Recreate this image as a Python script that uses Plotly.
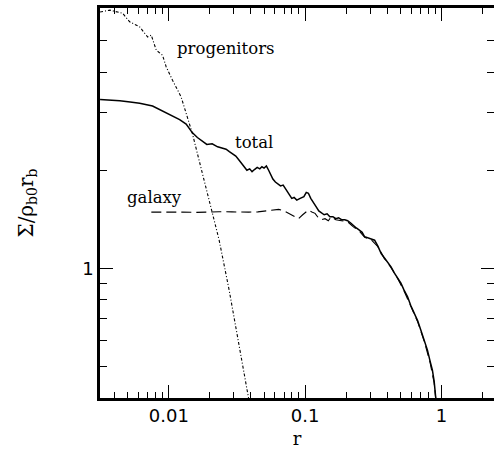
import plotly.graph_objects as go

# ---- data ----
r_total = [0.00313, 0.0037, 0.00437, 0.0052, 0.00611, 0.0076, 0.0092, 0.0106, 0.0120, 0.0134,
           0.01485, 0.0162, 0.0176, 0.0190, 0.0208, 0.0228, 0.0245, 0.0263, 0.0278, 0.0291,
           0.0310, 0.0327, 0.0350, 0.0374, 0.0392, 0.0408, 0.0425, 0.0445, 0.0465, 0.0482,
           0.0500, 0.0520, 0.0540, 0.0560, 0.0580, 0.0605, 0.0630, 0.0660, 0.0690, 0.0715,
           0.0750, 0.0798, 0.0830, 0.0869, 0.0920, 0.0980, 0.1020, 0.1057, 0.1100, 0.1149,
           0.1200, 0.1260, 0.1320, 0.1380, 0.1450, 0.1520, 0.1600, 0.1680, 0.1760, 0.1850,
           0.1955, 0.2050, 0.2150, 0.2260, 0.2375, 0.2500, 0.2620, 0.2735, 0.2880, 0.3050,
           0.3235, 0.3420, 0.3615, 0.3800, 0.4000, 0.4270, 0.4500, 0.4750, 0.5047, 0.5300,
           0.5648, 0.5950, 0.6320, 0.6700, 0.7060, 0.7500, 0.7900, 0.8250, 0.8590, 0.8850,
           0.9080, 0.9200]
sigma_total = [3.30, 3.29, 3.27, 3.24, 3.21, 3.15, 3.03, 2.95, 2.86, 2.77,
               2.61, 2.52, 2.45, 2.40, 2.41, 2.36, 2.34, 2.32, 2.28, 2.25,
               2.21, 2.15, 2.08, 2.00, 2.02, 1.98, 2.01, 2.04, 2.02, 2.05,
               2.03, 2.06, 2.00, 1.93, 1.88, 1.84, 1.82, 1.79, 1.80, 1.76,
               1.72, 1.64, 1.65, 1.62, 1.64, 1.66, 1.71, 1.70, 1.64, 1.60,
               1.55, 1.50, 1.475, 1.46, 1.47, 1.44, 1.44, 1.42, 1.43, 1.41,
               1.41, 1.40, 1.38, 1.35, 1.33, 1.31, 1.29, 1.25, 1.24, 1.23,
               1.22, 1.17, 1.11, 1.08, 1.05, 1.01, 0.97, 0.94, 0.90, 0.86,
               0.818, 0.77, 0.728, 0.69, 0.647, 0.60, 0.561, 0.52, 0.487, 0.45,
               0.404, 0.38]

r_galaxy = [0.00744, 0.0095, 0.0120, 0.0160, 0.0200, 0.0234, 0.0290, 0.0340, 0.0387, 0.0450,
            0.0520, 0.0569, 0.0640, 0.0700, 0.0756, 0.0820, 0.0894, 0.0960, 0.1057, 0.1120,
            0.1183, 0.1250, 0.1320, 0.1400, 0.1480, 0.1555, 0.1680, 0.1850, 0.2050, 0.2260,
            0.2500, 0.2735, 0.3050, 0.3420, 0.3800, 0.4270, 0.4750, 0.5300, 0.5950, 0.6700,
            0.7500, 0.8250, 0.8850, 0.9200]
sigma_galaxy = [1.488, 1.490, 1.488, 1.485, 1.490, 1.492, 1.490, 1.486, 1.488, 1.490,
                1.500, 1.510, 1.517, 1.500, 1.475, 1.450, 1.420, 1.460, 1.510, 1.490,
                1.475, 1.430, 1.410, 1.420, 1.400, 1.440, 1.410, 1.400, 1.390, 1.340,
                1.300, 1.245, 1.225, 1.165, 1.075, 1.005, 0.935, 0.855, 0.765, 0.685,
                0.595, 0.515, 0.445, 0.378]

r_prog = [0.00313, 0.0037, 0.00459, 0.00516, 0.00611, 0.00699, 0.00743, 0.00809, 0.00899,
          0.00957, 0.01064, 0.0123, 0.01486, 0.01758, 0.0208, 0.0234, 0.0277, 0.0327,
          0.0376, 0.0387]
sigma_prog = [6.12, 6.20, 6.06, 5.71, 5.51, 5.13, 5.20, 4.67, 4.51,
              4.15, 3.78, 3.36, 2.60, 1.957, 1.477, 1.221, 0.858, 0.575,
              0.4137, 0.394]

x_major = [0.01, 0.1, 1]
x_major_text = ["0.01", "0.1", "1"]
x_minor = [0.004, 0.005, 0.006, 0.007, 0.008, 0.009,
           0.02, 0.03, 0.04, 0.05, 0.06, 0.07, 0.08, 0.09,
           0.2, 0.3, 0.4, 0.5, 0.6, 0.7, 0.8, 0.9, 2]
y_major = [1]
y_major_text = ["1"]
y_minor = [0.5, 0.6, 0.7, 0.8, 0.9, 2, 3, 4, 5]

labels = ["progenitors", "total", "galaxy"]

# ---- figure ----
fig = go.Figure()
fig.add_trace(go.Scatter(x=r_total, y=sigma_total, mode="lines",
                         line=dict(color="black", width=1.5), name="total"))
fig.add_trace(go.Scatter(x=r_galaxy, y=sigma_galaxy, mode="lines",
                         line=dict(color="black", width=1.1, dash="10px,5px"), name="galaxy"))
fig.add_trace(go.Scatter(x=r_prog, y=sigma_prog, mode="lines",
                         line=dict(color="black", width=1.1, dash="3px,2px,1px,2px"),
                         name="progenitors"))

axis_common = dict(showline=True, linecolor="black", linewidth=2.5, mirror="ticks",
                   ticks="inside", tickcolor="black", tickwidth=1, ticklen=13,
                   showgrid=False, zeroline=False,
                   tickfont=dict(family="DejaVu Sans", size=18, color="black"))

fig.update_xaxes(type="log", range=[-2.505, 0.386], tickmode="array",
                 tickvals=x_major, ticktext=x_major_text,
                 minor=dict(tickmode="array", tickvals=x_minor, ticks="inside",
                            ticklen=6, tickcolor="black", tickwidth=1, showgrid=False),
                 title=dict(text="r", font=dict(family="DejaVu Serif", size=18, color="black"),
                            standoff=8),
                 **axis_common)
fig.update_yaxes(type="log", range=[-0.398, 0.799], tickmode="array",
                 tickvals=y_major, ticktext=y_major_text,
                 minor=dict(tickmode="array", tickvals=y_minor, ticks="inside",
                            ticklen=7, tickcolor="black", tickwidth=1, showgrid=False),
                 title=dict(text="Σ/ρ<sub>b0</sub>r<sub>b</sub>",
                            font=dict(family="DejaVu Serif", size=20, color="black"),
                            standoff=44),
                 **axis_common)

ann_pos = [(0.321, 0.897), (0.393, 0.654), (0.1396, 0.515)]
for txt, (ax_, ay_) in zip(labels, ann_pos):
    fig.add_annotation(text=txt, x=(ax_ * 394) / 397, y=ay_, xref="paper", yref="paper",
                       showarrow=False, xanchor="center", yanchor="middle",
                       font=dict(family="DejaVu Serif", size=16.5, color="black"))

fig.update_layout(width=497, height=451, margin=dict(l=100, r=0, t=8, b=53),
                  paper_bgcolor="white", plot_bgcolor="white", showlegend=False)

fig.write_html("out.html", config={"displayModeBar": False},
               post_script="document.body.style.margin='0px';")
